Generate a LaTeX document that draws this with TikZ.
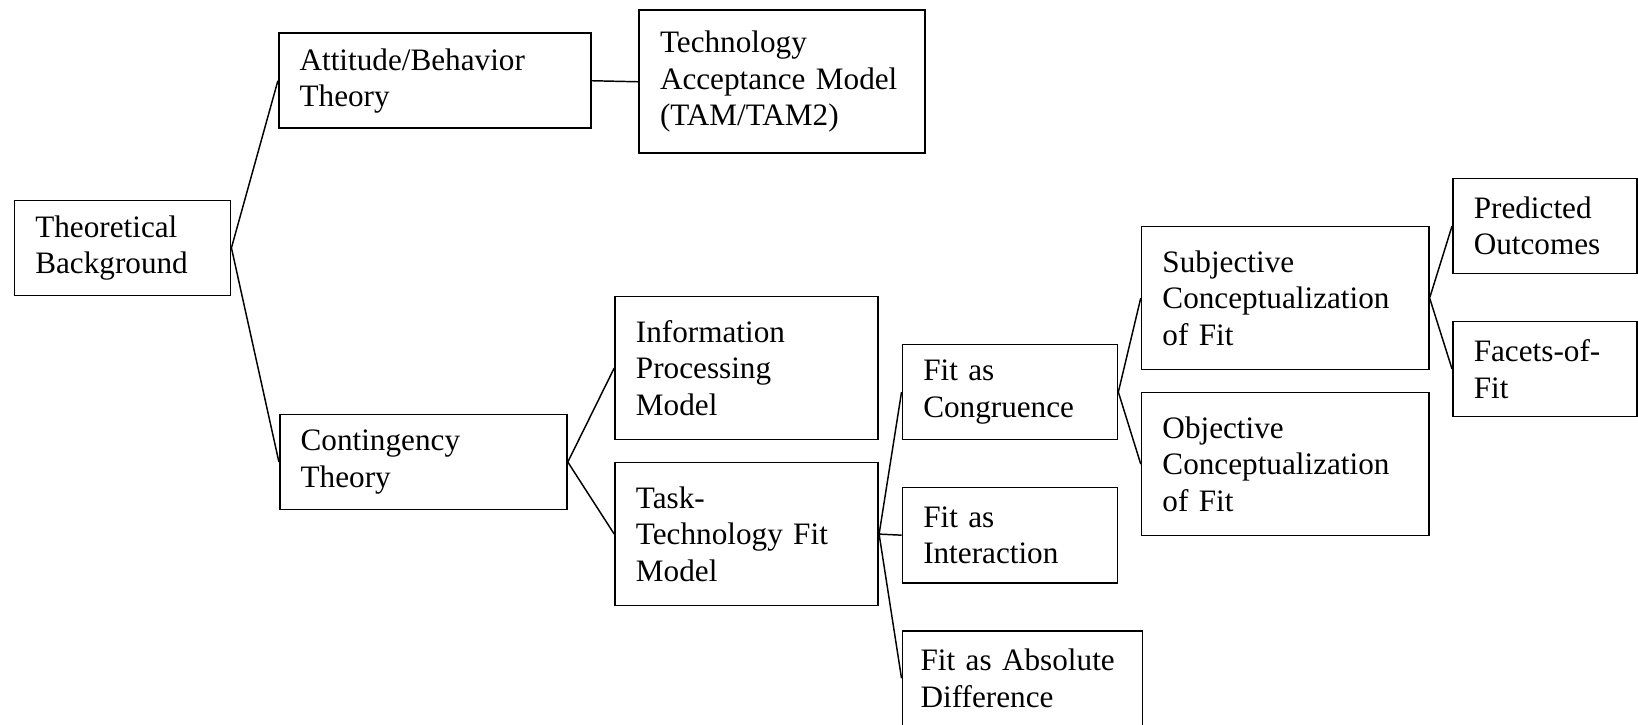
\documentclass[tikz,border=0pt]{standalone}
\usepackage{fontspec}
\setmainfont{Liberation Serif}

\tikzset{
  box/.style={draw, line width=0.9pt, anchor=north west, align=left,
    inner xsep=0.4cm, inner ysep=0pt, font=\fontsize{17}{19.8}\selectfont},
  two/.style={minimum height=1.82cm},
  three/.style={minimum height=2.74cm},
  link/.style={line width=0.8pt}
}

\begin{document}
\begin{tikzpicture}[x=0.02cm,y=-0.02cm]
\useasboundingbox (0,0) rectangle (1568,694);

% boxes
\node[box,two,text width=3.34cm] (tb) at (13,191) {Theoretical\\Background};
\node[box,two,text width=5.18cm] (ab) at (266,31) {Attitude/Behavior\\Theory};
\node[box,three,text width=4.68cm] (tam) at (611,9) {Technology\\Acceptance Model\\(TAM/TAM2)};
\node[box,two,text width=4.70cm] (ct) at (267,396) {Contingency\\Theory};
\node[box,three,text width=4.24cm] (ip) at (588,283) {Information\\Processing\\Model};
\node[box,three,text width=4.24cm] (ttf) at (588,442) {Task-\\Technology Fit\\Model};
\node[box,two,text width=3.32cm] (fc) at (863,329) {Fit as\\Congruence};
\node[box,two,text width=3.32cm] (fi) at (863,466) {Fit as\\Interaction};
\node[box,two,inner xsep=0.35cm,text width=3.90cm] (fa) at (863,603) {Fit as Absolute\\Difference};
\node[box,three,text width=4.70cm] (sc) at (1092,216) {Subjective\\Conceptualization\\of Fit};
\node[box,three,text width=4.70cm] (oc) at (1092,375) {Objective\\Conceptualization\\of Fit};
\node[box,two,text width=2.72cm] (po) at (1390,170) {Predicted\\Outcomes};
\node[box,two,text width=2.72cm] (ff) at (1390,307) {Facets-of-\\Fit};

% links
\draw[link] (tb.east) -- (ab.west) (tb.east) -- (ct.west);
\draw[link] (ab.east) -- (tam.west);
\draw[link] (ct.east) -- (ip.west) (ct.east) -- (ttf.west);
\draw[link] (ttf.east) -- (fc.west) (ttf.east) -- (fi.west) (ttf.east) -- (fa.west);
\draw[link] (fc.east) -- (sc.west) (fc.east) -- (oc.west);
\draw[link] (sc.east) -- (po.west) (sc.east) -- (ff.west);
\end{tikzpicture}
\end{document}
